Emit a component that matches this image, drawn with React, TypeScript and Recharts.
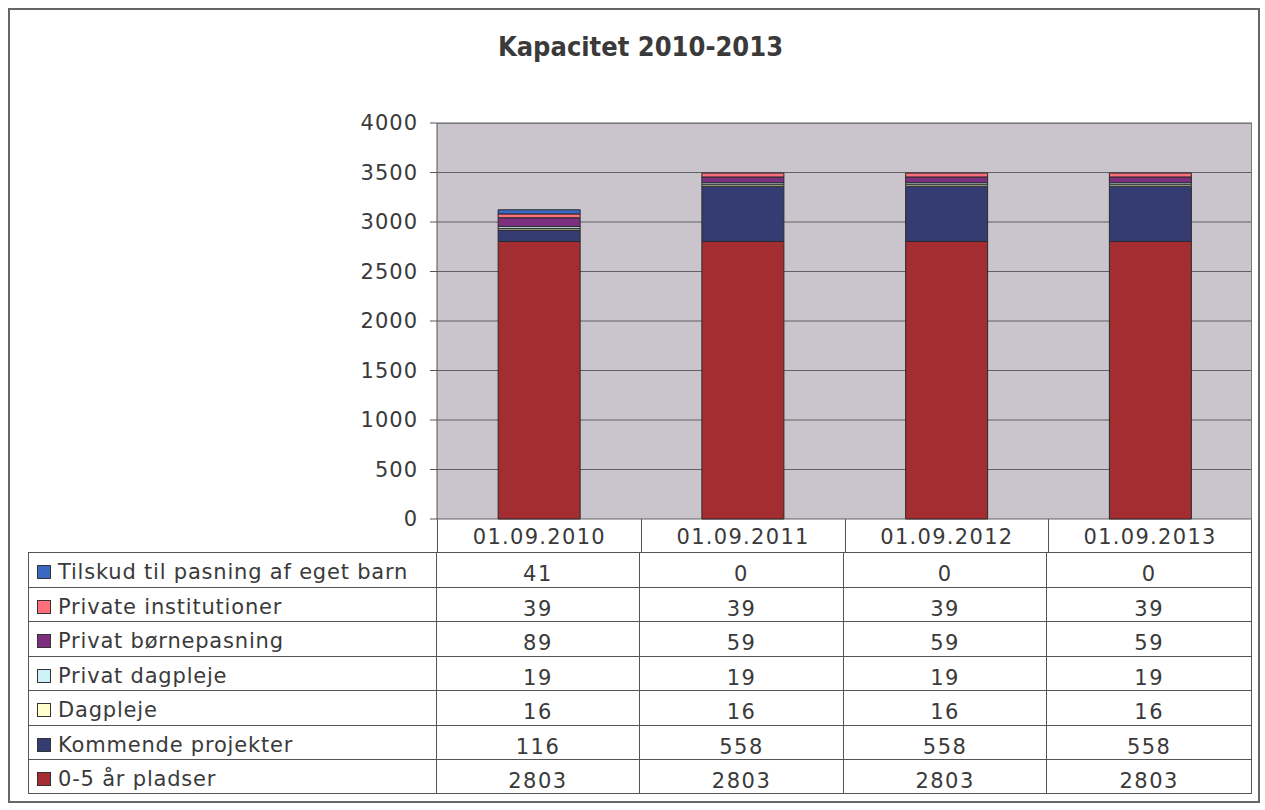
import React from "react";
import { Bar, BarChart, CartesianGrid, XAxis, YAxis } from "recharts";

const title = "Kapacitet 2010-2013";
const dates = ["01.09.2010", "01.09.2011", "01.09.2012", "01.09.2013"];

// bottom of the stack first
const pladser = [2803, 2803, 2803, 2803];
const kommende = [116, 558, 558, 558];
const dagpleje = [16, 16, 16, 16];
const privatDagpleje = [19, 19, 19, 19];
const privatBorn = [89, 59, 59, 59];
const privateInst = [39, 39, 39, 39];
const tilskud = [41, 0, 0, 0];

const yTicks = [0, 500, 1000, 1500, 2000, 2500, 3000, 3500, 4000];

const series = [
	{ key: "pladser", name: "0-5 år pladser", values: pladser, color: "#a32d31" },
	{ key: "kommende", name: "Kommende projekter", values: kommende, color: "#353c72" },
	{ key: "dagpleje", name: "Dagpleje", values: dagpleje, color: "#ffffcc" },
	{ key: "privatDagpleje", name: "Privat dagpleje", values: privatDagpleje, color: "#ccf2f8" },
	{ key: "privatBorn", name: "Privat børnepasning", values: privatBorn, color: "#7d2f7f" },
	{ key: "privateInst", name: "Private institutioner", values: privateInst, color: "#ff6f7c" },
	{ key: "tilskud", name: "Tilskud til pasning af eget barn", values: tilskud, color: "#3a68c2" },
];

const data = dates.map((d, i) => {
	const row: Record<string, any> = { date: d };
	series.forEach((s) => (row[s.key] = s.values[i]));
	return row;
});

const font = "'DejaVu Sans', Verdana, sans-serif";
const ink = "#3a3a3a";
const line = "#555";

const PLOT_LEFT = 437;
const PLOT_RIGHT = 1252;
const TABLE_TOP = 552;
const ROW_H = 34.5;

export default function App() {
	const colW = (PLOT_RIGHT - PLOT_LEFT) / dates.length;
	const tableRows = [...series].reverse();

	return (
		<div
			style={{
				position: "absolute",
				left: 0,
				top: 0,
				width: 1265,
				height: 810,
				background: "#fff",
				fontFamily: font,
				color: ink,
			}}
		>
			<div
				style={{
					position: "absolute",
					left: 8,
					top: 8,
					width: 1252,
					height: 795,
					border: "2px solid #666",
					boxSizing: "border-box",
				}}
			/>
			<div
				style={{
					position: "absolute",
					left: 8,
					width: 1265,
					top: 31,
					textAlign: "center",
					fontFamily: "'DejaVu Sans Condensed', 'DejaVu Sans', sans-serif",
					fontWeight: "bold",
					fontSize: 27,
					color: "#3a3a3a",
				}}
			>
				{title}
			</div>
			<div style={{ position: "absolute", left: 0, top: 0 }}>
				<BarChart
					width={1265}
					height={530}
					data={data}
					barCategoryGap="30%"
					margin={{ top: 123, right: 1265 - PLOT_RIGHT, bottom: 11, left: PLOT_LEFT - 80 }}
				>
					<CartesianGrid
						vertical={false}
						stroke={line}
						strokeOpacity={0.9}
						fill="#cac5cd"
						fillOpacity={1}
					/>
					<XAxis dataKey="date" hide />
					<YAxis
						width={80}
						domain={[0, 4000]}
						ticks={yTicks}
						interval={0}
						tickSize={7}
						tickLine={{ stroke: line }}
						axisLine={{ stroke: line }}
						tick={{ fill: ink, fontSize: 21, fontFamily: font, letterSpacing: 1 }}
						tickMargin={12}
					/>
					{series.map((s) => (
						<Bar
							key={s.key}
							dataKey={s.key}
							name={s.name}
							stackId="a"
							fill={s.color}
							stroke="#2a2a2a"
							strokeWidth={1}
							isAnimationActive={false}
						/>
					))}
				</BarChart>
			</div>
			{/* plot border on top/right */}
			<div
				style={{
					position: "absolute",
					left: PLOT_LEFT,
					top: 123,
					width: PLOT_RIGHT - PLOT_LEFT,
					height: 396,
					border: "1px solid #777",
					borderLeft: "none",
					borderBottom: "none",
					boxSizing: "border-box",
					pointerEvents: "none",
				}}
			/>
			{/* data table header */}
			{dates.map((d, i) => (
				<div
					key={d}
					style={{
						position: "absolute",
						left: PLOT_LEFT + i * colW,
						top: 519,
						width: colW,
						height: TABLE_TOP - 519,
						borderLeft: `1px solid ${line}`,
						borderRight: i === dates.length - 1 ? `1px solid ${line}` : "none",
						boxSizing: "border-box",
						textAlign: "center",
						fontSize: 21,
						lineHeight: "36px",
						letterSpacing: 1.3,
					}}
				>
					{d}
				</div>
			))}
			{tableRows.map((s, r) => (
				<div
					key={s.key}
					style={{
						position: "absolute",
						left: 28,
						top: TABLE_TOP + r * ROW_H,
						width: PLOT_RIGHT - 28,
						height: ROW_H,
						borderTop: `1px solid ${line}`,
						borderBottom: r === tableRows.length - 1 ? `1px solid ${line}` : "none",
						borderLeft: `1px solid ${line}`,
						borderRight: `1px solid ${line}`,
						boxSizing: "border-box",
						display: "flex",
					}}
				>
					<div
						style={{
							width: PLOT_LEFT - 29,
							borderRight: `1px solid ${line}`,
							display: "flex",
							alignItems: "center",
							paddingLeft: 8,
							paddingTop: 5,
							fontSize: 21,
							letterSpacing: 0.8,
							whiteSpace: "nowrap",
							overflow: "hidden",
							boxSizing: "border-box",
						}}
					>
						<span
							style={{
								display: "inline-block",
								width: 12,
								height: 12,
								background: s.color,
								border: "1px solid #333",
								marginRight: 7,
								flex: "none",
							}}
						/>
						{s.name}
					</div>
					{s.values.map((v, i) => (
						<div
							key={i}
							style={{
								width: colW,
								borderRight: i < s.values.length - 1 ? `1px solid ${line}` : "none",
								boxSizing: "border-box",
								textAlign: "center",
								fontSize: 21,
								letterSpacing: 1.5,
								lineHeight: `${ROW_H + 8}px`,
							}}
						>
							{v}
						</div>
					))}
				</div>
			))}
		</div>
	);
}
